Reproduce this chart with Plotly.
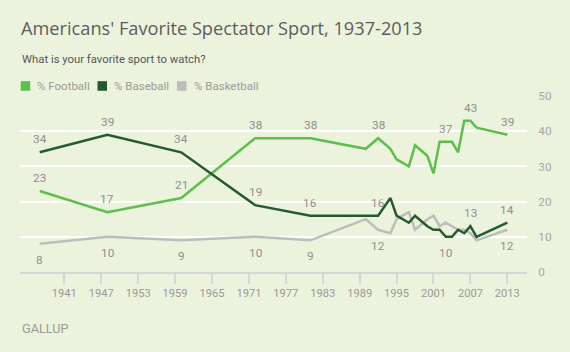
import plotly.graph_objects as go

# ---- data ----
football_years = [1937, 1948, 1960, 1972, 1981, 1990, 1992, 1994, 1995, 1997, 1998,
                  2000, 2001, 2002, 2003, 2004, 2005, 2006, 2007, 2008, 2013]
football_vals = [23, 17, 21, 38, 38, 35, 38, 35, 32, 30, 36,
                 33, 28, 37, 37, 37, 34, 43, 43, 41, 39]

baseball_years = [1937, 1948, 1960, 1972, 1981, 1990, 1992, 1994, 1995, 1997, 1998,
                  2000, 2001, 2002, 2003, 2004, 2005, 2006, 2007, 2008, 2013]
baseball_vals = [34, 39, 34, 19, 16, 16, 16, 21, 16, 14, 16,
                 13, 12, 12, 10, 10, 12, 11, 13, 10, 14]

basketball_years = [1937, 1948, 1960, 1972, 1981, 1990, 1992, 1994, 1995, 1997, 1998,
                    2000, 2001, 2002, 2003, 2004, 2005, 2006, 2007, 2008, 2013]
basketball_vals = [8, 10, 9, 10, 9, 15, 12, 11, 15, 17, 12,
                   15, 16, 13, 14, 13, 12, 12, 11, 9, 12]

# years whose values are labelled, and whether label sits above (+1) or below (-1)
football_labels = [1937, 1948, 1960, 1972, 1981, 1992, 2003, 2007, 2013]
baseball_labels = [1937, 1948, 1960, 1972, 1981, 1992, 2003, 2007, 2013]
baseball_label_side = [1, 1, 1, 1, 1, 1, -1, 1, 1]
basketball_labels = [1937, 1948, 1960, 1972, 1981, 1992, 2013]

x_ticks = list(range(1941, 2014, 6))
y_ticks = [0, 10, 20, 30, 40, 50]

title = "Americans' Favorite Spectator Sport, 1937-2013"
subtitle = "What is your favorite sport to watch?"
series_names = ["% Football", "% Baseball", "% Basketball"]

# ---- style ----
BG = "#ecf3dd"
C_FOOT = "#5cbf4b"
C_BASE = "#245a2f"
C_BASK = "#bdbdbd"
FONT = "Roboto"
LABEL_C = "#8f8f8f"

W, H = 570, 352
PL, PR, PT, PB = 20, 527, 96, 271.7


def px_x(px):
    return (px - PL) / (PR - PL)


def px_y(py):
    return (PB - py) / (PB - PT)


fig = go.Figure()
fig.add_trace(go.Scatter(x=basketball_years, y=basketball_vals, mode="lines",
                         line=dict(color=C_BASK, width=2.5), name=series_names[2],
                         hoverinfo="skip"))
fig.add_trace(go.Scatter(x=football_years, y=football_vals, mode="lines",
                         line=dict(color=C_FOOT, width=2.5), name=series_names[0],
                         hoverinfo="skip"))
fig.add_trace(go.Scatter(x=baseball_years, y=baseball_vals, mode="lines",
                         line=dict(color=C_BASE, width=2.5), name=series_names[1],
                         hoverinfo="skip"))

annotations = []


def add_labels(years, vals, label_years, sides):
    for yr, side in zip(label_years, sides):
        v = vals[years.index(yr)]
        annotations.append(dict(x=yr, y=v, xref="x", yref="y", text=str(v),
                                showarrow=False,
                                yshift=13 if side > 0 else -16,
                                font=dict(family=FONT, size=11.8, color=LABEL_C)))


add_labels(football_years, football_vals, football_labels, [1] * len(football_labels))
add_labels(baseball_years, baseball_vals, baseball_labels, baseball_label_side)
add_labels(basketball_years, basketball_vals, basketball_labels, [-1] * len(basketball_labels))

# title, subtitle, source
annotations.append(dict(x=px_x(19), y=px_y(28.5), xref="paper", yref="paper", text=title,
                        showarrow=False, xanchor="left", yanchor="middle",
                        font=dict(family="Open Sans", size=18.2, color="#5d5d5d")))
annotations.append(dict(x=px_x(19.5), y=px_y(59.5), xref="paper", yref="paper", text=subtitle,
                        showarrow=False, xanchor="left", yanchor="middle",
                        font=dict(family=FONT, size=11.3, color="#555555")))
annotations.append(dict(x=px_x(19.5), y=px_y(328), xref="paper", yref="paper", text="GALLUP",
                        showarrow=False, xanchor="left", yanchor="middle",
                        font=dict(family=FONT, size=12.7, color="#999999")))

# legend
shapes = []
legend_items = [(20.7, 34.5, C_FOOT, series_names[0]),
                (97.5, 111.5, C_BASE, series_names[1]),
                (177, 191.5, C_BASK, series_names[2])]
for sx, tx, col, name in legend_items:
    shapes.append(dict(type="rect", xref="paper", yref="paper",
                       x0=px_x(sx), x1=px_x(sx + 9.5), y0=px_y(81.2), y1=px_y(90.8),
                       fillcolor=col, line=dict(width=0)))
    annotations.append(dict(x=px_x(tx), y=px_y(86), xref="paper", yref="paper", text=name,
                            showarrow=False, xanchor="left", yanchor="middle",
                            font=dict(family=FONT, size=11.5, color="#9a9a9a")))

x0 = 1941 + (PL - 64.3) / 6.153
x1 = 1941 + (PR - 64.3) / 6.153

fig.update_layout(
    width=W, height=H,
    margin=dict(l=PL, r=W - PR, t=PT, b=H - PB),
    paper_bgcolor=BG, plot_bgcolor=BG,
    showlegend=False,
    annotations=annotations,
    shapes=shapes,
    xaxis=dict(range=[x0, x1], tickvals=x_ticks, ticktext=[str(t) for t in x_ticks],
               showgrid=False, zeroline=False, showline=True, linecolor="#d6d6d6",
               linewidth=2, ticks="outside", ticklen=10, tickwidth=2, tickcolor="#d6d6d6",
               tickfont=dict(family=FONT, size=11.1, color="#999999"), fixedrange=True),
    yaxis=dict(range=[0, 50], tickvals=y_ticks, side="right", showgrid=True,
               gridcolor="#ffffff", gridwidth=2, zeroline=False, showline=False,
               ticks="outside", ticklen=8, tickcolor="rgba(0,0,0,0)",
               tickfont=dict(family=FONT, size=11.8, color="#a6a6a6"), fixedrange=True),
)

fig.write_html("out.html")
